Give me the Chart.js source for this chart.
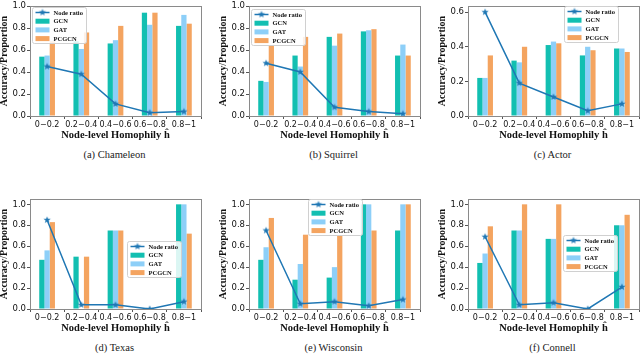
<!DOCTYPE html>
<html>
<head>
<meta charset="utf-8">
<script src="https://cdn.jsdelivr.net/npm/chart.js@4.4.0/dist/chart.umd.min.js"></script>
<style>
  body { margin: 0; background: #fff; }
  #wrap { position: relative; width: 640px; height: 354px; overflow: hidden; }
  canvas { position: absolute; }
  .cap { position: absolute; width: 215px; text-align: center; font-family: "Liberation Serif", serif; font-size: 10.5px; color: #222; }
</style>
</head>
<body>
<div id="wrap"></div>
<script>
const categories = ['0\u22120.2', '0.2\u22120.4', '0.4\u22120.6', '0.6\u22120.8', '0.8\u22121'];

const chameleonRatio = [0.45, 0.38, 0.11, 0.03, 0.04];
const chameleonGCN   = [0.54, 0.68, 0.66, 0.94, 0.82];
const chameleonGAT   = [0.55, 0.61, 0.69, 0.83, 0.92];
const chameleonPCGCN = [0.68, 0.76, 0.82, 0.94, 0.84];

const squirrelRatio = [0.48, 0.40, 0.08, 0.04, 0.02];
const squirrelGCN   = [0.32, 0.55, 0.72, 0.77, 0.55];
const squirrelGAT   = [0.31, 0.45, 0.64, 0.78, 0.65];
const squirrelPCGCN = [0.64, 0.72, 0.75, 0.79, 0.55];

const actorRatio = [0.60, 0.19, 0.11, 0.03, 0.07];
const actorGCN   = [0.22, 0.32, 0.41, 0.35, 0.39];
const actorGAT   = [0.22, 0.31, 0.43, 0.40, 0.39];
const actorPCGCN = [0.35, 0.40, 0.42, 0.38, 0.37];

const texasRatio = [0.85, 0.04, 0.04, 0.00, 0.07];
const texasGCN   = [0.47, 0.50, 0.75, 0.00, 1.00];
const texasGAT   = [0.56, 0.00, 0.75, 0.00, 1.00];
const texasPCGCN = [0.83, 0.50, 0.75, 0.00, 0.72];

const wisconsinRatio = [0.75, 0.05, 0.07, 0.03, 0.09];
const wisconsinGCN   = [0.47, 0.28, 0.30, 1.00, 0.75];
const wisconsinGAT   = [0.59, 0.43, 0.40, 1.00, 1.00];
const wisconsinPCGCN = [0.87, 0.71, 0.70, 0.75, 1.00];

const connellRatio = [0.69, 0.04, 0.06, 0.00, 0.21];
const connellGCN   = [0.44, 0.75, 0.67, 0.00, 0.80];
const connellGAT   = [0.53, 0.75, 0.67, 0.00, 0.80];
const connellPCGCN = [0.79, 1.00, 1.00, 0.00, 0.90];

const yTitle = 'Accuracy/Proportion';
const xTitle = 'Node-level Homophily \u0125';

const C_LINE = '#1f77b4', C_GCN = '#12bfb1', C_GAT = '#8dcff8', C_PCGCN = '#f4a460';

// panel layout: caption, data, y max, legend box offset inside plot
const panels = [
  {cap: '(a) Chameleon', r: chameleonRatio, g: chameleonGCN, a: chameleonGAT, p: chameleonPCGCN, max: 1.0, lx: 2, ly: 1, col: 0, row: 0},
  {cap: '(b) Squirrel', r: squirrelRatio, g: squirrelGCN, a: squirrelGAT, p: squirrelPCGCN, max: 1.0, lx: 2, ly: 3, col: 1, row: 0},
  {cap: '(c) Actor', r: actorRatio, g: actorGCN, a: actorGAT, p: actorPCGCN, max: 0.635, lx: 96, ly: 0, col: 2, row: 0},
  {cap: '(d) Texas', r: texasRatio, g: texasGCN, a: texasGAT, p: texasPCGCN, max: 1.05, lx: 97, ly: 42, col: 0, row: 1},
  {cap: '(e) Wisconsin', r: wisconsinRatio, g: wisconsinGCN, a: wisconsinGAT, p: wisconsinPCGCN, max: 1.05, lx: 59, ly: 0, col: 1, row: 1},
  {cap: '(f) Connell', r: connellRatio, g: connellGCN, a: connellGAT, p: connellPCGCN, max: 1.05, lx: 95, ly: 36, col: 2, row: 1}
];

function makeStar(r, color) {
  const c = document.createElement('canvas');
  c.width = c.height = Math.ceil(r * 2 + 2);
  const ctx = c.getContext('2d');
  const cx = c.width / 2, cy = c.height / 2;
  ctx.beginPath();
  for (let i = 0; i < 10; i++) {
    const rad = i % 2 === 0 ? r : r * 0.42;
    const ang = -Math.PI / 2 + i * Math.PI / 5;
    const x = cx + rad * Math.cos(ang), y = cy + rad * Math.sin(ang);
    if (i === 0) ctx.moveTo(x, y); else ctx.lineTo(x, y);
  }
  ctx.closePath();
  ctx.fillStyle = color;
  ctx.fill();
  return c;
}
const star = makeStar(3.8, C_LINE);

const framePlugin = {
  id: 'frame',
  afterDatasetsDraw(chart) {
    const a = chart.chartArea, ctx = chart.ctx;
    ctx.save();
    ctx.strokeStyle = '#8a8a8a';
    ctx.lineWidth = 1;
    ctx.strokeRect(Math.round(a.left) + 0.5, Math.round(a.top) + 0.5, Math.round(a.right - a.left), Math.round(a.bottom - a.top));
    ctx.restore();
  }
};

const legendPlugin = {
  id: 'boxLegend',
  afterDatasetsDraw(chart, args, opts) {
    const a = chart.chartArea, ctx = chart.ctx;
    const x = Math.round(a.left + opts.x) + 0.5, y = Math.round(a.top + opts.y) + 0.5;
    const w = 54, h = 36;
    ctx.save();
    ctx.fillStyle = 'rgba(255,255,255,0.85)';
    ctx.strokeStyle = '#d0d0d0';
    ctx.lineWidth = 1;
    ctx.beginPath();
    ctx.roundRect(x, y, w, h, 2);
    ctx.fill();
    ctx.stroke();
    const items = [['Node ratio', 'line'], ['GCN', C_GCN], ['GAT', C_GAT], ['PCGCN', C_PCGCN]];
    ctx.font = 'bold 6.5px "Liberation Serif"';
    ctx.textBaseline = 'middle';
    items.forEach((it, i) => {
      const cy = y + 5 + i * 8.7;
      if (it[1] === 'line') {
        ctx.strokeStyle = C_LINE;
        ctx.lineWidth = 1.5;
        ctx.beginPath();
        ctx.moveTo(x + 3, cy);
        ctx.lineTo(x + 17, cy);
        ctx.stroke();
        ctx.drawImage(star, x + 10 - star.width / 2, cy - star.height / 2);
      } else {
        ctx.fillStyle = it[1];
        ctx.fillRect(x + 3, cy - 2.5, 14, 5);
      }
      ctx.fillStyle = '#111';
      ctx.fillText(it[0], x + 21, cy + 0.5);
    });
    ctx.restore();
  }
};

const wrap = document.getElementById('wrap');

panels.forEach(pn => {
  const left = pn.col * 219 - 2, top = pn.row * 193;
  const cv = document.createElement('canvas');
  cv.width = 217; cv.height = 145;
  cv.style.left = left + 'px'; cv.style.top = top + 'px';
  cv.style.width = '217px'; cv.style.height = '145px';
  wrap.appendChild(cv);

  const cap = document.createElement('div');
  cap.className = 'cap';
  cap.textContent = pn.cap;
  cap.style.left = (left + 9) + 'px';
  cap.style.top = (top + 149) + 'px';
  wrap.appendChild(cap);

  new Chart(cv, {
    type: 'bar',
    data: {
      labels: categories,
      datasets: [
        {type: 'line', label: 'Node ratio', data: pn.r, borderColor: C_LINE, borderWidth: 1.5,
         pointStyle: star, pointRadius: 4, order: 0},
        {label: 'GCN', data: pn.g, backgroundColor: C_GCN, order: 1},
        {label: 'GAT', data: pn.a, backgroundColor: C_GAT, order: 1},
        {label: 'PCGCN', data: pn.p, backgroundColor: C_PCGCN, order: 1}
      ]
    },
    options: {
      responsive: false,
      animation: false,
      layout: {padding: {top: 4, right: 14, left: 0, bottom: 0}},
      datasets: {bar: {categoryPercentage: 0.46, barPercentage: 1.0}},
      plugins: {
        legend: {display: false},
        tooltip: {enabled: false},
        boxLegend: {x: pn.lx, y: pn.ly}
      },
      scales: {
        x: {
          grid: {display: true, drawOnChartArea: false, tickLength: 3, color: '#555'},
          border: {display: false},
          ticks: {autoSkip: false, maxRotation: 0, padding: 1, color: '#111',
                  font: {family: 'DejaVu Sans', size: 8}},
          title: {display: true, text: xTitle, color: '#111', padding: {top: 0, bottom: 3},
                  font: {family: 'Liberation Serif', size: 10.5, weight: 'bold'}},
          afterFit(s) { s.height = 29; }
        },
        y: {
          min: 0, max: pn.max,
          grid: {display: true, drawOnChartArea: false, tickLength: 3, color: '#555'},
          border: {display: false},
          ticks: {stepSize: 0.2, includeBounds: false, padding: 1, color: '#111',
                  font: {family: 'DejaVu Sans', size: 8.5},
                  callback: v => v.toFixed(1)},
          title: {display: true, text: yTitle, color: '#111', padding: 0,
                  font: {family: 'Liberation Serif', size: 10, weight: 'bold'}},
          afterFit(s) { s.width = 32; }
        }
      }
    },
    plugins: [framePlugin, legendPlugin]
  });
});
</script>
</body>
</html>
